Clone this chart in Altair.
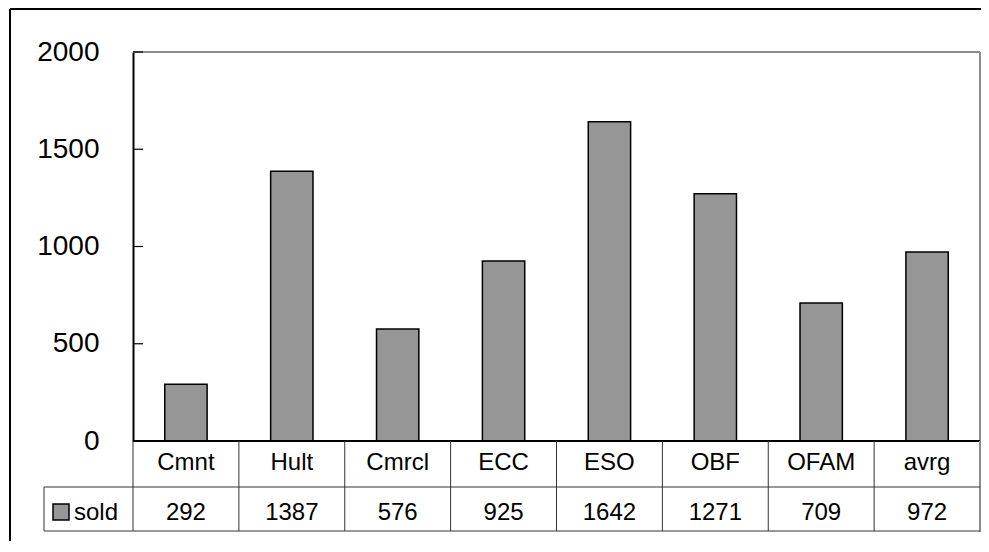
import altair as alt
import pandas as pd

cats = ["Cmnt", "Hult", "Cmrcl", "ECC", "ESO", "OBF", "OFAM", "avrg"]
sold = [292, 1387, 576, 925, 1642, 1271, 709, 972]
series_name = "sold"
y_ticks = [0, 500, 1000, 1500, 2000]

W, H = 847, 389
FONT = "Liberation Sans"
BAR_FILL = "#969696"
LINE = "#333333"
BORDER = "#8c8c8c"

df = pd.DataFrame({"cat": cats, "sold": sold, "label": [str(v) for v in sold]})
ticks_df = pd.DataFrame({"t": y_ticks})
legend_df = pd.DataFrame({"series": [series_name]})

yscale = alt.Scale(domain=[0, 2000])
xbar = alt.Scale(domain=cats, paddingInner=0.6, paddingOuter=0.3)
xtab = alt.Scale(domain=cats, paddingInner=0, paddingOuter=0)

bars = alt.Chart(df).mark_bar(fill=BAR_FILL, stroke="black", strokeWidth=1.5).encode(
    x=alt.X("cat:N", scale=xbar, axis=None),
    y=alt.Y("sold:Q", scale=yscale,
            axis=alt.Axis(values=y_ticks, format="d", ticks=False, tickSize=0, grid=False,
                          domainColor="black", domainWidth=2, labelFontSize=28,
                          labelPadding=34, labelColor="black", labelFont=FONT,
                          title=None)),
)
top_border = alt.Chart(ticks_df).mark_rule(color=BORDER, strokeWidth=2).encode(
    y=alt.value(0), x=alt.value(0), x2=alt.value(W)
)
right_plot_border = alt.Chart(ticks_df).mark_rule(color=BORDER, strokeWidth=2).encode(
    x=alt.value(W), y=alt.value(0), y2=alt.value(H)
)
tick_marks = alt.Chart(ticks_df).mark_rule(color="black", strokeWidth=1.2).encode(
    y=alt.Y("t:Q", scale=yscale), x=alt.value(0), x2=alt.value(10)
)
zero = alt.Chart(ticks_df).mark_rule(color="black", strokeWidth=2).encode(y=alt.datum(0))

top_part = alt.layer(bars, top_border, right_plot_border, tick_marks, zero)

hdr_text = alt.Chart(df).mark_text(fontSize=24, font=FONT, color="black", baseline="middle").encode(
    x=alt.X("cat:N", scale=xtab, axis=None), y=alt.value(411), text="cat:N"
)
val_text = alt.Chart(df).mark_text(fontSize=24, font=FONT, color="black", baseline="middle", dy=4).encode(
    x=alt.X("cat:N", scale=xtab, axis=None), y=alt.value(457), text="label:N"
)
vlines = alt.Chart(df).mark_rule(color=LINE, strokeWidth=1).encode(
    x=alt.X("cat:N", scale=xtab, bandPosition=0, axis=None), y=alt.value(389), y2=alt.value(479)
)
right_border = alt.Chart(legend_df).mark_rule(color=BORDER, strokeWidth=2).encode(
    x=alt.value(W), y=alt.value(389), y2=alt.value(480)
)
hline_mid = alt.Chart(legend_df).mark_rule(color=LINE, strokeWidth=1).encode(
    x=alt.value(-89), x2=alt.value(W), y=alt.value(435)
)
hline_bot = alt.Chart(legend_df).mark_rule(color=LINE, strokeWidth=1).encode(
    x=alt.value(-89), x2=alt.value(W), y=alt.value(479)
)
left_cell = alt.Chart(legend_df).mark_rule(color=LINE, strokeWidth=1).encode(
    x=alt.value(-89), y=alt.value(435), y2=alt.value(479)
)
swatch = alt.Chart(legend_df).mark_square(size=256, fill=BAR_FILL, stroke="black", strokeWidth=1.5, opacity=1).encode(
    x=alt.value(-72), y=alt.value(460)
)
legend_text = alt.Chart(legend_df).mark_text(fontSize=24, font=FONT, color="black", align="left", baseline="middle", dy=4).encode(
    x=alt.value(-59), y=alt.value(457), text="series:N"
)
frame_top = alt.Chart(legend_df).mark_rule(color="black", strokeWidth=2).encode(
    x=alt.value(-123), x2=alt.value(W + 40), y=alt.value(-43)
)
frame_left = alt.Chart(legend_df).mark_rule(color="black", strokeWidth=2).encode(
    x=alt.value(-123), y=alt.value(-43), y2=alt.value(H + 200)
)

table_part = alt.layer(hdr_text, val_text, vlines, right_border, hline_mid, hline_bot,
                       left_cell, swatch, legend_text, frame_top, frame_left)

chart = alt.layer(top_part, table_part).resolve_scale(x="independent", y="independent").properties(
    width=W, height=H,
    autosize=alt.AutoSizeParams(type="none"),
    padding={"left": 125, "top": 44, "right": 1, "bottom": 100},
).configure_view(stroke=None).configure(font=FONT)

chart.save("out.html", embed_options={"renderer": "svg", "actions": False})
